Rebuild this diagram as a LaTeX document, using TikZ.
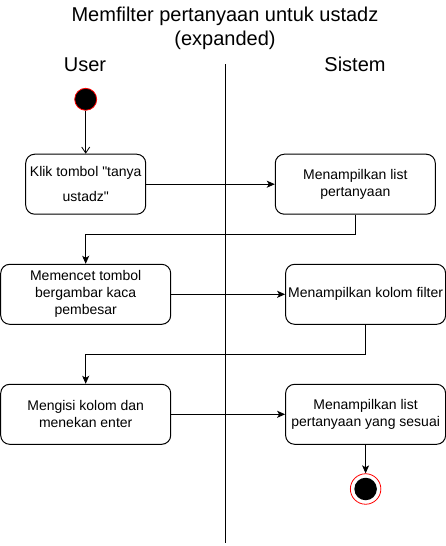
\documentclass[tikz,border=0pt]{standalone}
\usepackage{fontspec}
\setmainfont{Liberation Sans}
\newfontfamily\plainsans{Liberation Sans}
\usetikzlibrary{arrows.meta}
\begin{document}
\begin{tikzpicture}[x=1pt,y=-1pt,
  actbox/.style={draw=black, line width=1pt, fill=white, rounded corners=9pt,
    align=center, inner sep=0pt, font=\plainsans\fontsize{14}{17}\selectfont},
  flow/.style={draw=black, line width=1pt, -{Stealth[length=8pt,width=7pt,inset=2pt]}},
  openflow/.style={draw=black, line width=0.8pt, -{Straight Barb[length=6pt,width=8pt]}},
  titlefont/.style={font=\fontsize{20}{24}\selectfont, inner sep=0pt, anchor=base}
]
\useasboundingbox (0,0) rectangle (446,546);

% titles
\node[titlefont] (t1) at (225,21.5) {Memfilter pertanyaan untuk ustadz};
\node[titlefont] (t2) at (225,45) {(expanded)};
\node[titlefont] (user) at (85,71.5) {User};
\node[titlefont] (sistem) at (355,71.5) {Sistem};

% swimlane divider
\coordinate (lt) at (225.7,64);
\coordinate (lb) at (225.7,543);
\draw[line width=1pt] (lt) -- (lb);

% start
\node[circle, draw=red, fill=black, line width=0.8pt, minimum size=22pt, inner sep=0pt] (start) at (85.7,99.3) {};

% boxes
\node[actbox, minimum width=120pt, minimum height=60pt] (b1) at (85.7,184.2) {Klik tombol "tanya\\[8pt]ustadz"};
\node[actbox, minimum width=160pt, minimum height=60pt] (b2) at (355.3,184.2) {Menampilkan list\\pertanyaan};
\node[actbox, minimum width=170pt, minimum height=60pt] (b3) at (85.7,294.3) {Memencet tombol\\bergambar kaca\\pembesar};
\node[actbox, minimum width=160pt, minimum height=60pt] (b4) at (365.6,294.3) {Menampilkan kolom filter};
\node[actbox, minimum width=170pt, minimum height=60pt] (b5) at (85.7,414.3) {Mengisi kolom dan\\menekan enter};
\node[actbox, minimum width=160pt, minimum height=60pt] (b6) at (365.6,414.3) {Menampilkan list\\pertanyaan yang sesuai};

% end
\node[circle, draw=red, fill=white, line width=0.8pt, minimum size=30.5pt, inner sep=0pt] (endo) at (365.6,489) {};
\node[circle, fill=black, minimum size=22.5pt, inner sep=0pt] (endi) at (endo) {};

% connectors
\draw[openflow] (start) -- (b1);
\draw[flow] (b1) -- (b2);
\draw[flow] (b2.south) -- ++(0,20.1) -| (b3.north);
\draw[flow] (b3) -- (b4);
\draw[flow] (b4.south) -- ++(0,30) -| (b5.north);
\draw[flow] (b5) -- (b6);
\draw[flow] (b6) -- (endo);
\end{tikzpicture}
\end{document}
